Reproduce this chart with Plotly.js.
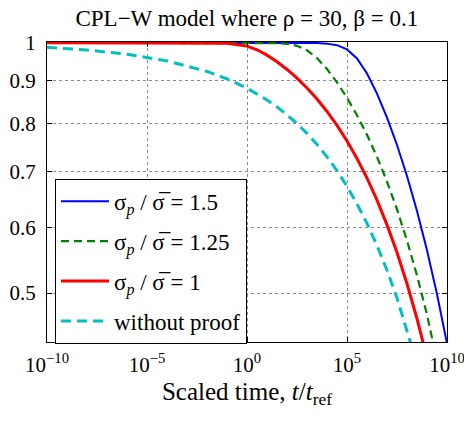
<!DOCTYPE html>
<html>
<head>
<meta charset="utf-8">
<script src="https://cdn.plot.ly/plotly-3.0.1.min.js"></script>
<style>html,body{margin:0;padding:0;background:#fff;}#chart{width:464px;height:421px;}</style>
</head>
<body>
<div id="chart"></div>
<script>
// Scaled time t/t_ref (shared sampling grid)
const scaledTime = [1e-10, 1e-8, 1e-6, 1e-4, 1e-2, 1e-1, 1, 3.16, 10, 31.6, 100, 316, 1e3, 3.16e3, 1e4, 3.16e4, 1e5, 3.16e5, 1e6, 3.16e6, 1e7, 3.16e7, 1e8, 3.16e8, 1e9, 3.16e9, 1e10];

// Survival probability
const surv150 = [1, 1, 1, 1, 1, 1, 1, 1, 1, 1, 1, 0.9999, 0.9998, 0.9993, 0.9978, 0.9935, 0.9820, 0.9575, 0.9185, 0.8689, 0.8130, 0.7535, 0.6914, 0.6277, 0.5631, 0.4985, 0.4349];
const surv125 = [1, 1, 1, 1, 1, 1, 1, 0.9999, 0.9997, 0.9991, 0.9971, 0.9918, 0.9796, 0.9585, 0.9299, 0.8961, 0.8587, 0.8182, 0.7750, 0.7291, 0.6808, 0.6304, 0.5783, 0.5250, 0.4710, 0.4170, 0.3637];
const surv100 = [1, 1, 1, 1, 0.9999, 0.9988, 0.9910, 0.9809, 0.9665, 0.9489, 0.9289, 0.9069, 0.8824, 0.8558, 0.8269, 0.7957, 0.7620, 0.7259, 0.6875, 0.6468, 0.6039, 0.5593, 0.5130, 0.4657, 0.4178, 0.3699, 0.3226];
const survNoProof = [0.9875, 0.9803, 0.9689, 0.9512, 0.9238, 0.9050, 0.8819, 0.8685, 0.8536, 0.8373, 0.8194, 0.7997, 0.7782, 0.7547, 0.7293, 0.7017, 0.6720, 0.6402, 0.6063, 0.5704, 0.5326, 0.4932, 0.4524, 0.4107, 0.3684, 0.3262, 0.2845];

const seriesNames = [
  'σ<sub><i>p</i></sub> / σ\u0305 = 1.5',
  'σ<sub><i>p</i></sub> / σ\u0305 = 1.25',
  'σ<sub><i>p</i></sub> / σ\u0305 = 1',
  'without proof'
];

const xTickVals = [1e-10, 1e-5, 1, 1e5, 1e10];
const xTickText = ['10<sup>−10</sup>', '10<sup>−5</sup>', '10<sup>0</sup>', '10<sup>5</sup>', '10<sup>10</sup>'];
const yTickVals = [0.5, 0.6, 0.7, 0.8, 0.9, 1];
const yTickText = ['0.5', '0.6', '0.7', '0.8', '0.9', '1'];

const FONT = 'Liberation Serif';

const traces = [
  {x: scaledTime, y: surv150, name: seriesNames[0], legendgroup: 'a', mode: 'lines', line: {color: '#0000ff', width: 2}},
  {x: scaledTime, y: surv125, name: seriesNames[1], legendgroup: 'b', mode: 'lines', line: {color: '#008000', width: 2.2, dash: '8px,5px'}},
  {x: scaledTime, y: surv100, name: seriesNames[2], legendgroup: 'c', mode: 'lines', line: {color: '#ff0000', width: 3}},
  {x: scaledTime, y: survNoProof, name: seriesNames[3], legendgroup: 'd', mode: 'lines', line: {color: '#00bfbf', width: 3, dash: '10px,6px'}}
];

function axisBase() {
  return {
    showline: true, linecolor: '#000', linewidth: 1, mirror: 'ticks',
    ticks: 'inside', ticklen: 5, tickcolor: '#000', tickwidth: 1,
    showgrid: true, gridcolor: 'rgba(0,0,0,0.45)', griddash: 'dot', gridwidth: 1,
    zeroline: false, tickfont: {family: FONT, size: 21, color: '#000'}
  };
}

const xaxis = Object.assign(axisBase(), {
  type: 'log', range: [-10, 10], tickmode: 'array', tickvals: xTickVals, ticktext: xTickText,
  ticklabelstandoff: 4, ticklabeloverflow: 'allow',
  title: {text: 'Scaled time, <i>t</i>/<i>t</i><sub>ref</sub>', font: {family: FONT, size: 25, color: '#000'}, standoff: 6}
});
const yaxis = Object.assign(axisBase(), {
  type: 'log', range: [-0.3599, 0.001], tickmode: 'array', tickvals: yTickVals, ticktext: yTickText,
  ticklabelstandoff: 6
});

const layout = {
  width: 464, height: 421,
  margin: {l: 47, r: 17, t: 42, b: 79},
  font: {family: FONT, size: 21, color: '#000'},
  title: {text: 'CPL−W model where ρ = 30, β = 0.1', font: {family: FONT, size: 23, color: '#000'},
          x: 0.532, xanchor: 'center', y: 0.957, yanchor: 'middle', yref: 'container'},
  xaxis: xaxis,
  yaxis: yaxis,
  showlegend: true,
  legend: {
    x: 0.02, y: 0.544, xanchor: 'left', yanchor: 'top',
    bgcolor: '#fff', bordercolor: '#000', borderwidth: 1,
    font: {family: FONT, size: 23, color: '#000'},
    itemwidth: 48, tracegroupgap: 7, traceorder: 'grouped'
  }
};

Plotly.newPlot('chart', traces, layout, {staticPlot: true});
</script>
</body>
</html>
